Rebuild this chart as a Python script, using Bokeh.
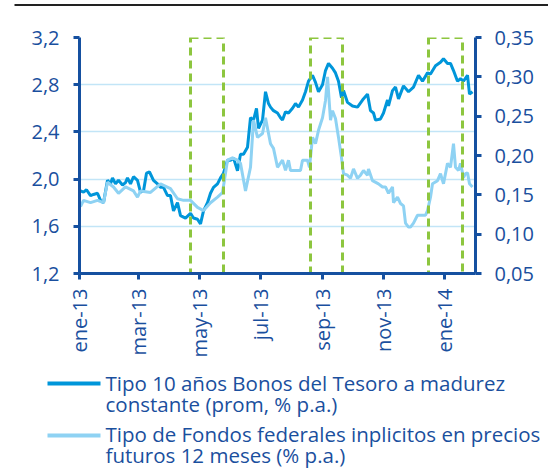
import math
import pandas as pd
from bokeh.plotting import figure
from bokeh.models import Range1d, LinearAxis, FixedTicker, ColumnDataSource
from bokeh.embed import file_html
from bokeh.resources import INLINE
from bokeh.core.properties import value

# ---- data ----
bond_dates = ["2013-01-02", "2013-01-05", "2013-01-08", "2013-01-12", "2013-01-15", "2013-01-19", "2013-01-22",
              "2013-01-25", "2013-01-29", "2013-02-01", "2013-02-03", "2013-02-06", "2013-02-09", "2013-02-13",
              "2013-02-16", "2013-02-18", "2013-02-21", "2013-02-24", "2013-02-28", "2013-03-03", "2013-03-06",
              "2013-03-09", "2013-03-12", "2013-03-16", "2013-03-20", "2013-03-23", "2013-03-26", "2013-03-30",
              "2013-04-02", "2013-04-05", "2013-04-09", "2013-04-12", "2013-04-17", "2013-04-22", "2013-04-25",
              "2013-04-29", "2013-05-02", "2013-05-05", "2013-05-09", "2013-05-12", "2013-05-15", "2013-05-19",
              "2013-05-22", "2013-05-25", "2013-05-29", "2013-06-01", "2013-06-04", "2013-06-08", "2013-06-11",
              "2013-06-14", "2013-06-18", "2013-06-21", "2013-06-24", "2013-06-27", "2013-06-29", "2013-07-03",
              "2013-07-06", "2013-07-09", "2013-07-11", "2013-07-14", "2013-07-18", "2013-07-21", "2013-07-23",
              "2013-07-26", "2013-07-29", "2013-08-02", "2013-08-05", "2013-08-08", "2013-08-12", "2013-08-15",
              "2013-08-18", "2013-08-22", "2013-08-25", "2013-08-28", "2013-09-01", "2013-09-04", "2013-09-07",
              "2013-09-11", "2013-09-14", "2013-09-17", "2013-09-20", "2013-09-22", "2013-09-26", "2013-10-01",
              "2013-10-06", "2013-10-11", "2013-10-16", "2013-10-19", "2013-10-22", "2013-10-24", "2013-10-29",
              "2013-11-01", "2013-11-05", "2013-11-06", "2013-11-10", "2013-11-13", "2013-11-16", "2013-11-21",
              "2013-11-26", "2013-12-01", "2013-12-06", "2013-12-10", "2013-12-15", "2013-12-18", "2013-12-23",
              "2013-12-28", "2013-12-31", "2014-01-04", "2014-01-07", "2014-01-10", "2014-01-14", "2014-01-17",
              "2014-01-20", "2014-01-24", "2014-01-26", "2014-01-29"]
bond_yield = [1.90, 1.89, 1.91, 1.86, 1.87, 1.88, 1.82,
              1.80, 1.99, 1.96, 2.01, 1.96, 1.99, 1.95,
              1.97, 2.01, 1.96, 2.02, 1.99, 1.89, 1.90,
              2.05, 2.06, 1.99, 1.96, 1.93, 1.93, 1.86,
              1.86, 1.73, 1.80, 1.69, 1.67, 1.71, 1.67,
              1.66, 1.62, 1.73, 1.80, 1.88, 1.93, 1.96,
              2.01, 2.05, 2.16, 2.16, 2.18, 2.07, 2.21,
              2.21, 2.27, 2.52, 2.50, 2.60, 2.43, 2.50,
              2.74, 2.64, 2.61, 2.58, 2.56, 2.52, 2.50,
              2.57, 2.56, 2.60, 2.64, 2.61, 2.67, 2.74,
              2.83, 2.88, 2.82, 2.74, 2.80, 2.92, 2.98,
              2.94, 2.90, 2.83, 2.69, 2.75, 2.65, 2.62,
              2.61, 2.67, 2.72, 2.58, 2.56, 2.50, 2.51,
              2.56, 2.67, 2.62, 2.75, 2.78, 2.68, 2.79,
              2.74, 2.78, 2.88, 2.83, 2.90, 2.89, 2.96,
              2.99, 3.02, 2.98, 2.98, 2.92, 2.83, 2.85,
              2.83, 2.88, 2.72, 2.74]

ff_dates = ["2013-01-02", "2013-01-05", "2013-01-12", "2013-01-19", "2013-01-25", "2013-01-29", "2013-02-04",
            "2013-02-09", "2013-02-16", "2013-02-24", "2013-02-28", "2013-03-03", "2013-03-13", "2013-03-23",
            "2013-04-02", "2013-04-09", "2013-04-15", "2013-04-22", "2013-04-29", "2013-05-05", "2013-05-12",
            "2013-05-19", "2013-05-24", "2013-05-29", "2013-06-03", "2013-06-08", "2013-06-11", "2013-06-16",
            "2013-06-21", "2013-06-24", "2013-06-28", "2013-07-03", "2013-07-06", "2013-07-11", "2013-07-14",
            "2013-07-18", "2013-07-23", "2013-07-26", "2013-07-29", "2013-07-31", "2013-08-10", "2013-08-12",
            "2013-08-17", "2013-08-19", "2013-08-22", "2013-08-25", "2013-08-28", "2013-09-01", "2013-09-04",
            "2013-09-06", "2013-09-09", "2013-09-11", "2013-09-14", "2013-09-17", "2013-09-20", "2013-09-22",
            "2013-09-26", "2013-09-29", "2013-10-02", "2013-10-06", "2013-10-09", "2013-10-12", "2013-10-16",
            "2013-10-17", "2013-10-21", "2013-10-27", "2013-10-31", "2013-11-03", "2013-11-06", "2013-11-10",
            "2013-11-11", "2013-11-15", "2013-11-18", "2013-11-21", "2013-11-23", "2013-11-26", "2013-11-28",
            "2013-12-01", "2013-12-05", "2013-12-08", "2013-12-13", "2013-12-15", "2013-12-18", "2013-12-20",
            "2013-12-25", "2013-12-28", "2013-12-31", "2014-01-04", "2014-01-07", "2014-01-10", "2014-01-12",
            "2014-01-15", "2014-01-17", "2014-01-20", "2014-01-22", "2014-01-24", "2014-01-26", "2014-01-29"]
ff_rate = [0.135, 0.143, 0.140, 0.143, 0.140, 0.166, 0.160,
           0.152, 0.160, 0.155, 0.147, 0.155, 0.153, 0.164,
           0.158, 0.145, 0.143, 0.143, 0.134, 0.130, 0.140,
           0.147, 0.153, 0.194, 0.197, 0.194, 0.190, 0.155,
           0.185, 0.245, 0.223, 0.228, 0.248, 0.215, 0.209,
           0.185, 0.194, 0.181, 0.194, 0.181, 0.181, 0.194,
           0.194, 0.185, 0.223, 0.215, 0.232, 0.248, 0.270,
           0.300, 0.245, 0.257, 0.247, 0.223, 0.197, 0.177,
           0.175, 0.171, 0.183, 0.171, 0.175, 0.181, 0.175,
           0.183, 0.168, 0.164, 0.160, 0.160, 0.152, 0.160,
           0.140, 0.147, 0.139, 0.136, 0.114, 0.109, 0.109,
           0.114, 0.124, 0.124, 0.124, 0.130, 0.147, 0.164,
           0.168, 0.177, 0.164, 0.190, 0.185, 0.215, 0.185,
           0.181, 0.190, 0.172, 0.177, 0.178, 0.164, 0.160]

box_start = ["2013-04-22", "2013-08-20", "2013-12-16"]
box_end = ["2013-05-25", "2013-09-21", "2014-01-19"]

left_ticks = [1.2, 1.6, 2.0, 2.4, 2.8, 3.2]
left_labels = ["1,2", "1,6", "2,0", "2,4", "2,8", "3,2"]
right_ticks = [0.05, 0.10, 0.15, 0.20, 0.25, 0.30, 0.35]
right_labels = ["0,05", "0,10", "0,15", "0,20", "0,25", "0,30", "0,35"]
month_ticks = ["2013-01-01", "2013-03-01", "2013-05-01", "2013-07-01", "2013-09-01", "2013-11-01", "2014-01-01"]
month_labels = ["ene-13", "mar-13", "may-13", "jul-13", "sep-13", "nov-13", "ene-14"]

series_names = [["Tipo 10 años Bonos del Tesoro a madurez", "constante (prom, % p.a.)"],
                ["Tipo de Fondos federales inplicitos en precios", "futuros 12 meses (% p.a.)"]]

# ---- style ----
DARK = "#0096DA"
LIGHT = "#8ED2F3"
AXIS = "#1550A0"
TEXT = "#1A4F9E"
GRID = "#C2E5F7"
GREEN = "#8DC63F"
FONT = "Open Sans"
TICK_SIZE = "20px"
LEG_SIZE = "20.5px"
W = 548


def ms(d):
    return int(pd.Timestamp(d).timestamp() * 1000)


def bare(fig):
    fig.outline_line_color = None
    fig.grid.visible = False
    fig.background_fill_color = None
    fig.border_fill_color = None
    return fig


# thin rule across the top of the page
top = bare(figure(width=W, height=25, x_range=Range1d(0, W), y_range=Range1d(25, 0),
                  toolbar_location=None, output_backend="svg", min_border=0,
                  x_axis_location=None, y_axis_location=None))
top.segment(x0=[14], y0=[4.5], x1=[W], y1=[4.5], line_color="#222222", line_width=2)

# main chart
p = figure(width=W, height=337, x_axis_type="datetime",
           x_range=Range1d(pd.Timestamp("2013-01-01"), pd.Timestamp("2014-02-01")),
           y_range=Range1d(1.2, 3.2),
           toolbar_location=None, output_backend="svg",
           min_border_left=79, min_border_right=73, min_border_top=12, min_border_bottom=89)
p.outline_line_color = None
p.background_fill_color = None
p.border_fill_color = None
p.extra_y_ranges = {"ff": Range1d(0.05, 0.35)}

bond_src = ColumnDataSource(dict(x=pd.to_datetime(bond_dates), y=bond_yield))
ff_src = ColumnDataSource(dict(x=pd.to_datetime(ff_dates), y=ff_rate))

p.line("x", "y", source=bond_src, line_color=DARK, line_width=3)
p.line("x", "y", source=ff_src, line_color=LIGHT, line_width=3, y_range_name="ff")

p.quad(left=pd.to_datetime(box_start), right=pd.to_datetime(box_end),
       bottom=[left_ticks[0]] * len(box_start), top=[left_ticks[-1]] * len(box_start),
       fill_color=None, line_color=GREEN, line_width=3, line_dash="8 5")

yl = p.yaxis[0]
yl.ticker = FixedTicker(ticks=left_ticks)
yl.major_label_overrides = dict(zip(left_ticks, left_labels))

yr = LinearAxis(y_range_name="ff")
yr.ticker = FixedTicker(ticks=right_ticks)
yr.major_label_overrides = dict(zip(right_ticks, right_labels))
p.add_layout(yr, "right")

xa = p.xaxis[0]
xt = [ms(d) for d in month_ticks]
xa.ticker = FixedTicker(ticks=xt)
xa.major_label_overrides = dict(zip(xt, month_labels))
xa.major_label_orientation = math.pi / 2

for ax in (yl, yr, xa):
    ax.axis_line_color = AXIS
    ax.axis_line_width = 3
    ax.major_tick_line_color = AXIS
    ax.major_tick_line_width = 3
    ax.major_tick_out = 6
    ax.major_tick_in = 0
    ax.minor_tick_line_color = None
    ax.major_label_text_color = TEXT
    ax.major_label_text_font = FONT
    ax.major_label_text_font_size = TICK_SIZE
yl.major_label_standoff = 14
yr.major_label_standoff = 13
xa.major_label_standoff = 9

p.xgrid.visible = False
p.ygrid.ticker = FixedTicker(ticks=left_ticks)
p.ygrid.grid_line_color = GRID
p.ygrid.grid_line_width = 1.5

# legend panel under the chart (pixel coordinates, y downward)
leg = bare(figure(width=W, height=106, x_range=Range1d(0, W), y_range=Range1d(106, 0),
                  toolbar_location=None, output_backend="svg", min_border=0,
                  x_axis_location=None, y_axis_location=None))
leg.segment(x0=[47, 47], y0=[21, 73], x1=[100, 100], y1=[21, 73],
            line_color=[DARK, LIGHT], line_width=4)
leg_lines = series_names[0] + series_names[1]
leg.text(x=[105] * 4, y=[20, 41, 71, 92], text=leg_lines,
         text_font=value(FONT), text_font_size=LEG_SIZE, text_color=TEXT,
         text_baseline="alphabetic", text_align="left")

open("out.html", "w").write(file_html([top, p, leg], INLINE))
